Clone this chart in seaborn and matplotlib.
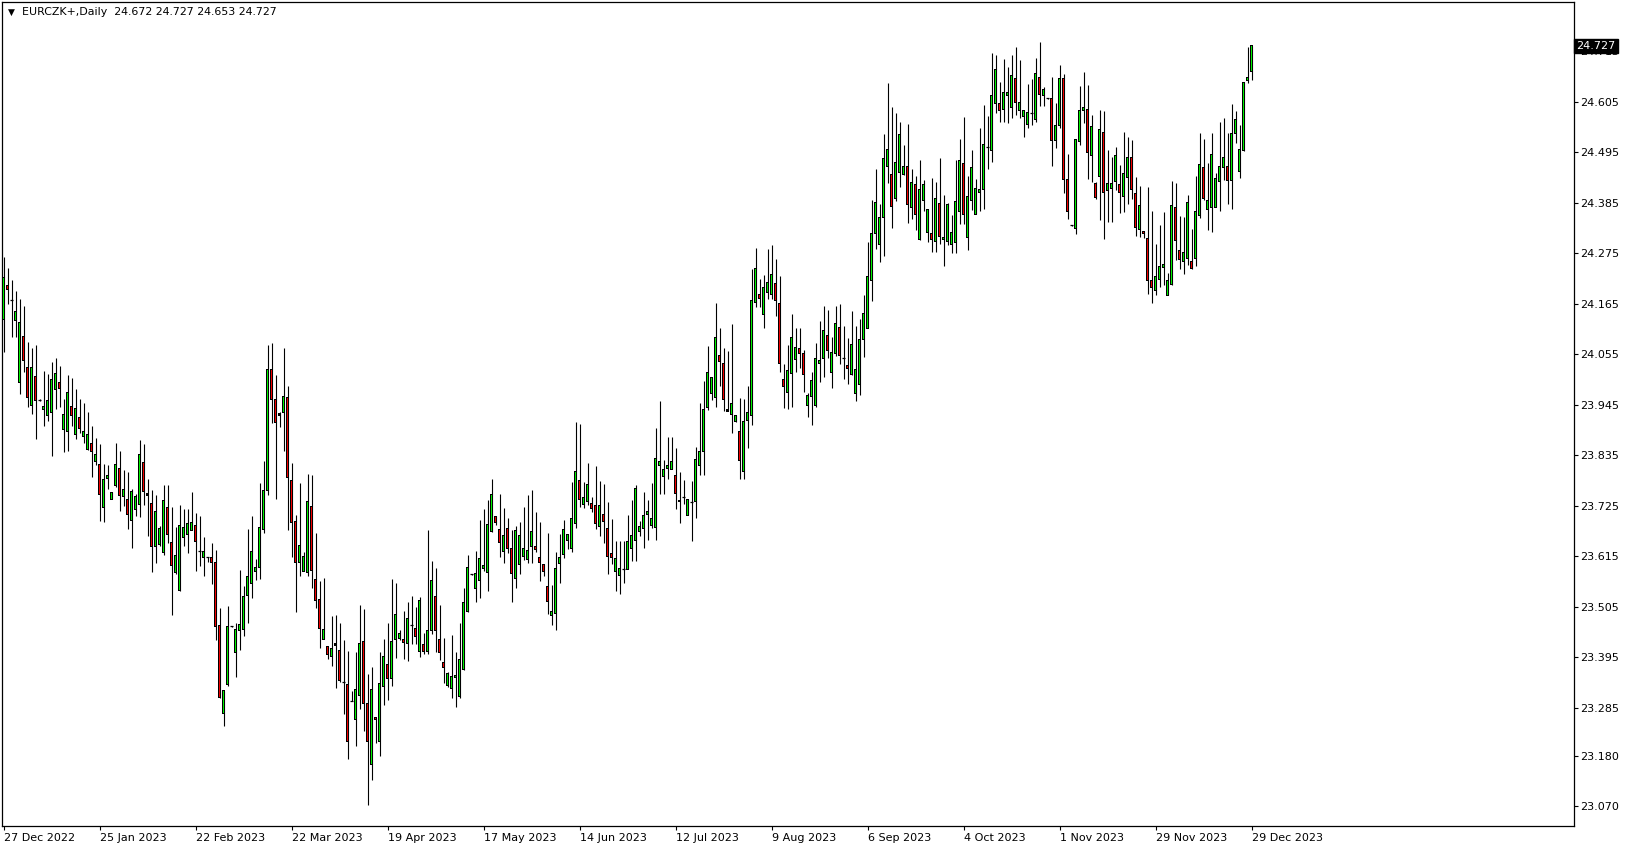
import numpy as np
import pandas as pd
import matplotlib
matplotlib.use("Agg")
import matplotlib.pyplot as plt
from matplotlib.transforms import blended_transform_factory
import seaborn as sns

# ---------------- data ----------------
symbol_title = "EURCZK+,Daily"
header_ohlc = "24.672 24.727 24.653 24.727"

opens = [
    24.130, 24.205, 24.174, 24.129, 23.994, 24.093, 24.025, 23.944, 24.007, 23.955,
    23.935, 23.922, 23.928, 23.977, 23.993, 23.892, 23.887, 23.940, 23.881, 23.918,
    23.876, 23.848, 23.860, 23.822, 23.815, 23.721, 23.785, 23.739, 23.768, 23.805,
    23.746, 23.739, 23.693, 23.717, 23.728, 23.820, 23.747, 23.730, 23.636, 23.641,
    23.622, 23.722, 23.644, 23.579, 23.540, 23.655, 23.662, 23.671, 23.682, 23.626,
    23.612, 23.614, 23.613, 23.602, 23.464, 23.273, 23.336, 23.462, 23.406, 23.454,
    23.455, 23.529, 23.555, 23.582, 23.590, 23.674, 23.757, 24.021, 23.956, 23.925,
    23.927, 23.960, 23.779, 23.690, 23.601, 23.582, 23.580, 23.723, 23.565, 23.520,
    23.434, 23.418, 23.396, 23.421, 23.410, 23.341, 23.335, 23.299, 23.259, 23.311,
    23.430, 23.294, 23.162, 23.263, 23.211, 23.330, 23.378, 23.348, 23.434, 23.435,
    23.434, 23.424, 23.465, 23.458, 23.408, 23.423, 23.408, 23.453, 23.528, 23.434,
    23.383, 23.333, 23.326, 23.350, 23.310, 23.368, 23.494, 23.575, 23.545, 23.561,
    23.589, 23.579, 23.669, 23.702, 23.672, 23.625, 23.676, 23.632, 23.567, 23.597,
    23.614, 23.607, 23.636, 23.637, 23.613, 23.597, 23.548, 23.486, 23.490, 23.599,
    23.619, 23.650, 23.632, 23.687, 23.779, 23.728, 23.734, 23.730, 23.725, 23.679,
    23.706, 23.676, 23.620, 23.581, 23.573, 23.586, 23.586, 23.632, 23.648, 23.669,
    23.675, 23.705, 23.681, 23.677, 23.813, 23.788, 23.807, 23.804, 23.790, 23.737,
    23.743, 23.704, 23.734, 23.733, 23.813, 23.842, 23.939, 23.970, 23.961, 24.053,
    24.034, 23.931, 23.924, 23.908, 23.887, 23.800, 23.910, 23.921, 24.167, 24.185,
    24.141, 24.190, 24.185, 24.209, 24.165, 23.999, 23.972, 24.012, 24.043, 24.067,
    24.056, 23.944, 23.963, 23.944, 24.034, 24.046, 24.096, 24.016, 24.056, 24.114,
    24.046, 24.030, 24.010, 23.970, 23.988, 24.087, 24.112, 24.216, 24.317, 24.295,
    24.353, 24.463, 24.446, 24.394, 24.451, 24.446, 24.463, 24.374, 24.424, 24.304,
    24.390, 24.320, 24.319, 24.301, 24.384, 24.304, 24.301, 24.293, 24.298, 24.365,
    24.470, 24.309, 24.389, 24.360, 24.407, 24.413, 24.507, 24.498, 24.602, 24.602,
    24.589, 24.618, 24.593, 24.656, 24.586, 24.573, 24.556, 24.581, 24.567, 24.659,
    24.618, 24.613, 24.613, 24.520, 24.554, 24.656, 24.436, 24.336, 24.329, 24.518,
    24.586, 24.589, 24.487, 24.427, 24.442, 24.538, 24.411, 24.416, 24.432, 24.425,
    24.398, 24.440, 24.484, 24.405, 24.327, 24.323, 24.308, 24.215, 24.193, 24.217,
    24.245, 24.183, 24.206, 24.374, 24.281, 24.256, 24.263, 24.258, 24.263, 24.358,
    24.462, 24.370, 24.375, 24.375, 24.432, 24.462, 24.465, 24.433, 24.535, 24.453,
    24.498, 24.651, 24.672,
]
highs = [
    24.267, 24.243, 24.216, 24.192, 24.176, 24.161, 24.081, 24.069, 24.074, 23.958,
    24.019, 24.012, 24.039, 24.047, 24.030, 23.957, 24.010, 24.003, 23.979, 23.957,
    23.949, 23.928, 23.899, 23.873, 23.859, 23.815, 23.814, 23.754, 23.862, 23.843,
    23.803, 23.799, 23.762, 23.750, 23.868, 23.859, 23.783, 23.759, 23.748, 23.681,
    23.770, 23.770, 23.723, 23.678, 23.727, 23.717, 23.717, 23.755, 23.708, 23.702,
    23.657, 23.614, 23.643, 23.628, 23.502, 23.322, 23.506, 23.463, 23.470, 23.585,
    23.550, 23.675, 23.702, 23.609, 23.775, 23.823, 24.074, 24.080, 24.009, 23.930,
    24.069, 23.985, 23.819, 23.705, 23.774, 23.624, 23.794, 23.792, 23.666, 23.561,
    23.568, 23.418, 23.485, 23.487, 23.469, 23.432, 23.408, 23.321, 23.406, 23.509,
    23.500, 23.359, 23.373, 23.263, 23.405, 23.434, 23.469, 23.565, 23.557, 23.455,
    23.495, 23.514, 23.528, 23.505, 23.527, 23.447, 23.672, 23.605, 23.590, 23.509,
    23.436, 23.363, 23.443, 23.406, 23.470, 23.546, 23.617, 23.576, 23.626, 23.693,
    23.717, 23.738, 23.783, 23.702, 23.750, 23.719, 23.699, 23.672, 23.680, 23.690,
    23.721, 23.748, 23.760, 23.712, 23.690, 23.597, 23.666, 23.552, 23.623, 23.664,
    23.694, 23.663, 23.777, 23.907, 23.902, 23.777, 23.818, 23.743, 23.812, 23.779,
    23.772, 23.732, 23.695, 23.648, 23.648, 23.648, 23.705, 23.737, 23.770, 23.692,
    23.755, 23.737, 23.774, 23.894, 23.954, 23.825, 23.874, 23.874, 23.850, 23.799,
    23.781, 23.739, 23.779, 23.852, 23.948, 23.997, 24.072, 24.005, 24.167, 24.112,
    24.069, 24.063, 24.121, 23.922, 23.960, 23.957, 23.986, 24.241, 24.286, 24.218,
    24.227, 24.284, 24.294, 24.262, 24.225, 24.034, 24.076, 24.143, 24.112, 24.112,
    24.065, 23.970, 24.016, 24.080, 24.128, 24.161, 24.152, 24.092, 24.161, 24.165,
    24.116, 24.090, 24.150, 24.116, 24.132, 24.183, 24.300, 24.390, 24.459, 24.383,
    24.534, 24.645, 24.593, 24.581, 24.561, 24.510, 24.556, 24.459, 24.443, 24.479,
    24.434, 24.372, 24.440, 24.430, 24.483, 24.401, 24.384, 24.359, 24.479, 24.523,
    24.571, 24.443, 24.499, 24.437, 24.547, 24.598, 24.574, 24.711, 24.707, 24.649,
    24.699, 24.680, 24.706, 24.724, 24.696, 24.585, 24.644, 24.654, 24.701, 24.736,
    24.638, 24.614, 24.658, 24.602, 24.686, 24.665, 24.491, 24.337, 24.523, 24.640,
    24.670, 24.642, 24.576, 24.431, 24.587, 24.585, 24.500, 24.485, 24.506, 24.467,
    24.540, 24.529, 24.522, 24.442, 24.421, 24.323, 24.420, 24.367, 24.296, 24.336,
    24.365, 24.233, 24.432, 24.428, 24.356, 24.354, 24.402, 24.327, 24.444, 24.538,
    24.525, 24.471, 24.538, 24.449, 24.560, 24.569, 24.536, 24.600, 24.584, 24.554,
    24.648, 24.725, 24.727,
]
lows = [
    24.059, 24.165, 24.092, 24.092, 23.968, 24.017, 23.941, 23.924, 23.871, 23.953,
    23.899, 23.910, 23.833, 23.935, 23.939, 23.841, 23.845, 23.899, 23.870, 23.884,
    23.862, 23.846, 23.788, 23.813, 23.692, 23.689, 23.761, 23.739, 23.766, 23.713,
    23.724, 23.675, 23.633, 23.702, 23.701, 23.726, 23.659, 23.581, 23.601, 23.636,
    23.618, 23.644, 23.486, 23.576, 23.540, 23.637, 23.622, 23.671, 23.583, 23.593,
    23.571, 23.603, 23.555, 23.433, 23.306, 23.245, 23.333, 23.461, 23.352, 23.410,
    23.440, 23.469, 23.524, 23.564, 23.565, 23.665, 23.748, 23.905, 23.739, 23.897,
    23.845, 23.672, 23.612, 23.494, 23.572, 23.582, 23.572, 23.546, 23.503, 23.415,
    23.434, 23.390, 23.375, 23.327, 23.341, 23.270, 23.173, 23.299, 23.202, 23.282,
    23.235, 23.073, 23.128, 23.208, 23.180, 23.290, 23.302, 23.331, 23.394, 23.432,
    23.390, 23.386, 23.423, 23.423, 23.395, 23.401, 23.402, 23.446, 23.407, 23.388,
    23.338, 23.330, 23.306, 23.287, 23.305, 23.367, 23.494, 23.574, 23.514, 23.523,
    23.583, 23.538, 23.667, 23.683, 23.612, 23.599, 23.621, 23.516, 23.546, 23.575,
    23.607, 23.601, 23.601, 23.624, 23.561, 23.572, 23.488, 23.465, 23.455, 23.557,
    23.610, 23.631, 23.625, 23.677, 23.723, 23.719, 23.726, 23.711, 23.675, 23.659,
    23.643, 23.575, 23.597, 23.539, 23.532, 23.556, 23.586, 23.604, 23.604, 23.659,
    23.633, 23.650, 23.677, 23.651, 23.750, 23.750, 23.783, 23.804, 23.717, 23.688,
    23.729, 23.704, 23.648, 23.697, 23.791, 23.791, 23.933, 23.956, 23.939, 23.986,
    23.932, 23.931, 23.883, 23.908, 23.783, 23.783, 23.850, 23.900, 24.157, 24.158,
    24.112, 24.176, 24.176, 24.138, 24.016, 23.937, 23.936, 23.941, 24.016, 24.024,
    23.972, 23.919, 23.901, 23.941, 23.994, 24.005, 24.047, 23.981, 24.052, 24.034,
    24.001, 23.990, 24.010, 23.953, 23.967, 24.048, 24.112, 24.171, 24.285, 24.255,
    24.270, 24.427, 24.330, 24.389, 24.419, 24.446, 24.341, 24.350, 24.325, 24.304,
    24.368, 24.299, 24.277, 24.277, 24.295, 24.248, 24.292, 24.275, 24.275, 24.338,
    24.338, 24.282, 24.370, 24.360, 24.368, 24.372, 24.459, 24.473, 24.580, 24.562,
    24.562, 24.558, 24.569, 24.576, 24.569, 24.529, 24.549, 24.554, 24.560, 24.596,
    24.596, 24.612, 24.466, 24.504, 24.547, 24.407, 24.349, 24.335, 24.318, 24.511,
    24.558, 24.437, 24.431, 24.394, 24.347, 24.307, 24.343, 24.343, 24.412, 24.363,
    24.365, 24.383, 24.394, 24.313, 24.311, 24.308, 24.187, 24.167, 24.183, 24.201,
    24.205, 24.183, 24.206, 24.260, 24.241, 24.230, 24.249, 24.241, 24.247, 24.351,
    24.391, 24.325, 24.322, 24.375, 24.367, 24.434, 24.383, 24.371, 24.516, 24.439,
    24.498, 24.645, 24.653,
]
closes = [
    24.223, 24.195, 24.174, 24.148, 24.125, 24.042, 23.961, 24.025, 23.955, 23.956,
    23.942, 23.955, 23.999, 24.014, 23.980, 23.924, 23.971, 23.922, 23.937, 23.894,
    23.887, 23.881, 23.844, 23.837, 23.750, 23.782, 23.790, 23.754, 23.814, 23.747,
    23.761, 23.706, 23.755, 23.744, 23.837, 23.756, 23.751, 23.636, 23.713, 23.676,
    23.737, 23.662, 23.595, 23.617, 23.682, 23.678, 23.686, 23.688, 23.646, 23.626,
    23.626, 23.614, 23.601, 23.462, 23.308, 23.322, 23.462, 23.462, 23.455, 23.466,
    23.528, 23.571, 23.626, 23.590, 23.678, 23.757, 24.021, 23.956, 23.907, 23.921,
    23.963, 23.787, 23.688, 23.601, 23.639, 23.615, 23.734, 23.584, 23.519, 23.457,
    23.455, 23.401, 23.414, 23.425, 23.343, 23.341, 23.212, 23.299, 23.324, 23.425,
    23.294, 23.210, 23.324, 23.258, 23.338, 23.397, 23.348, 23.430, 23.488, 23.447,
    23.426, 23.479, 23.465, 23.439, 23.519, 23.408, 23.453, 23.561, 23.454, 23.404,
    23.372, 23.360, 23.353, 23.355, 23.390, 23.515, 23.591, 23.575, 23.578, 23.610,
    23.594, 23.683, 23.750, 23.688, 23.645, 23.661, 23.632, 23.578, 23.671, 23.659,
    23.632, 23.628, 23.669, 23.629, 23.601, 23.581, 23.517, 23.495, 23.588, 23.613,
    23.674, 23.663, 23.698, 23.799, 23.738, 23.742, 23.770, 23.719, 23.685, 23.726,
    23.690, 23.614, 23.612, 23.610, 23.588, 23.586, 23.646, 23.660, 23.763, 23.680,
    23.704, 23.713, 23.697, 23.828, 23.821, 23.804, 23.812, 23.822, 23.752, 23.733,
    23.743, 23.739, 23.734, 23.825, 23.842, 23.935, 24.016, 24.005, 24.091, 24.039,
    23.957, 23.935, 23.948, 23.922, 23.823, 23.909, 23.928, 24.171, 24.241, 24.177,
    24.200, 24.211, 24.229, 24.171, 24.034, 23.985, 24.019, 24.091, 24.069, 24.056,
    24.010, 23.965, 23.997, 24.045, 24.041, 24.107, 24.063, 24.058, 24.121, 24.053,
    24.046, 24.023, 24.077, 24.021, 24.087, 24.143, 24.225, 24.317, 24.385, 24.353,
    24.481, 24.501, 24.376, 24.472, 24.534, 24.463, 24.381, 24.429, 24.359, 24.413,
    24.424, 24.370, 24.304, 24.394, 24.312, 24.310, 24.381, 24.321, 24.388, 24.477,
    24.359, 24.399, 24.461, 24.416, 24.413, 24.512, 24.507, 24.618, 24.675, 24.585,
    24.626, 24.626, 24.662, 24.604, 24.604, 24.585, 24.582, 24.581, 24.667, 24.620,
    24.631, 24.613, 24.520, 24.554, 24.656, 24.436, 24.367, 24.336, 24.523, 24.585,
    24.593, 24.495, 24.552, 24.396, 24.545, 24.407, 24.427, 24.427, 24.487, 24.407,
    24.449, 24.484, 24.414, 24.332, 24.378, 24.318, 24.215, 24.201, 24.225, 24.246,
    24.250, 24.215, 24.380, 24.302, 24.261, 24.276, 24.386, 24.241, 24.367, 24.469,
    24.394, 24.389, 24.491, 24.438, 24.465, 24.484, 24.433, 24.536, 24.567, 24.500,
    24.648, 24.658, 24.727,
]

date_labels = ["27 Dec 2022", "25 Jan 2023", "22 Feb 2023", "22 Mar 2023", "19 Apr 2023",
               "17 May 2023", "14 Jun 2023", "12 Jul 2023", "9 Aug 2023", "6 Sep 2023",
               "4 Oct 2023", "1 Nov 2023", "29 Nov 2023", "29 Dec 2023"]
date_label_bars = [0, 24, 48, 72, 96, 120, 144, 168, 192, 216, 240, 264, 288, 312]

price_ticks = [23.070, 23.180, 23.285, 23.395, 23.505, 23.615, 23.725, 23.835,
               23.945, 24.055, 24.165, 24.275, 24.385, 24.495, 24.605, 24.715]
last_price = 24.727

# ---------------- figure ----------------
sns.set_theme(style="white")
plt.rcParams["font.family"] = ["DejaVu Sans"]

W, H = 1629, 850
fig = plt.figure(figsize=(W / 100, H / 100), dpi=100)
fig.patch.set_facecolor("white")
# plot frame in pixels: x 2..1574, y 2..826  (4 px per bar)
ax = fig.add_axes([2 / W, 24 / H, 1572 / W, 824 / H])
ax.set_facecolor("white")

Y0, Y1 = 23.0269, 24.8225
px = (Y1 - Y0) / 824.0          # one pixel in price units

df = pd.DataFrame({"open": opens, "high": highs, "low": lows, "close": closes})
df["bar"] = np.arange(len(df))
df["bull"] = df["close"] > df["open"]
df["body_lo"] = df[["open", "close"]].min(axis=1)
df["body_h"] = (df["close"] - df["open"]).abs()

green, red = "#00F000", "#F00000"
# wicks (1 px)
ax.vlines(df["bar"], df["low"], df["high"], color="black", linewidth=0.8, zorder=1)
# body outline (black, 3 px wide)
body = df[df["body_h"] >= 0.9 * px].copy()
ax.bar(body["bar"], body["body_h"] + px, bottom=body["body_lo"] - px / 2, width=0.78,
       color="black", linewidth=0, zorder=2)
# body fill (inside the outline)
fill = body[body["body_h"] > 2 * px]
ax.bar(fill["bar"], fill["body_h"] - px, bottom=fill["body_lo"] + px / 2, width=0.36,
       color=np.where(fill["bull"], green, red), linewidth=0, zorder=3)
# doji bars -> horizontal black line
doji = df[df["body_h"] < 0.9 * px]
ax.hlines(doji["close"], doji["bar"] - 0.39, doji["bar"] + 0.39, color="black",
          linewidth=0.9, zorder=2)

ax.set_xlim(-0.375, -0.375 + 1572 / 4)
ax.set_ylim(Y0, Y1)

for s in ax.spines.values():
    s.set_color("black")
    s.set_linewidth(0.9)

ax.yaxis.tick_right()
ax.set_yticks(price_ticks)
ax.set_yticklabels([f"{p:.3f}" for p in price_ticks])
ax.tick_params(axis="y", which="both", direction="out", length=3, width=0.8,
               colors="black", labelsize=8.0, pad=1.5, right=True, left=False)

ax.set_xticks(date_label_bars)
ax.set_xticklabels(date_labels, ha="left")
ax.tick_params(axis="x", direction="out", length=3, width=0.8, colors="black",
               labelsize=8.0, pad=2, bottom=True)

# last price marker on the right scale (covers the 24.715 label as in the reference)
tr = blended_transform_factory(ax.transAxes, ax.transData)
ax.text(1.0015, last_price, f"{last_price:.3f}", transform=tr, ha="left", va="center",
        fontsize=8.0, color="white", zorder=10, clip_on=False,
        bbox=dict(boxstyle="square,pad=0.2", facecolor="black", edgecolor="black"))

# header
ax.text(0.0035, 0.9875, "\u25BC", transform=ax.transAxes, fontsize=6.5, color="black",
        ha="left", va="center")
ax.text(0.0125, 0.9875, f"{symbol_title}  {header_ohlc}", transform=ax.transAxes,
        fontsize=7.9, color="black", ha="left", va="center")

ax.grid(False)
fig.savefig("out.png", dpi=100, facecolor="white")
